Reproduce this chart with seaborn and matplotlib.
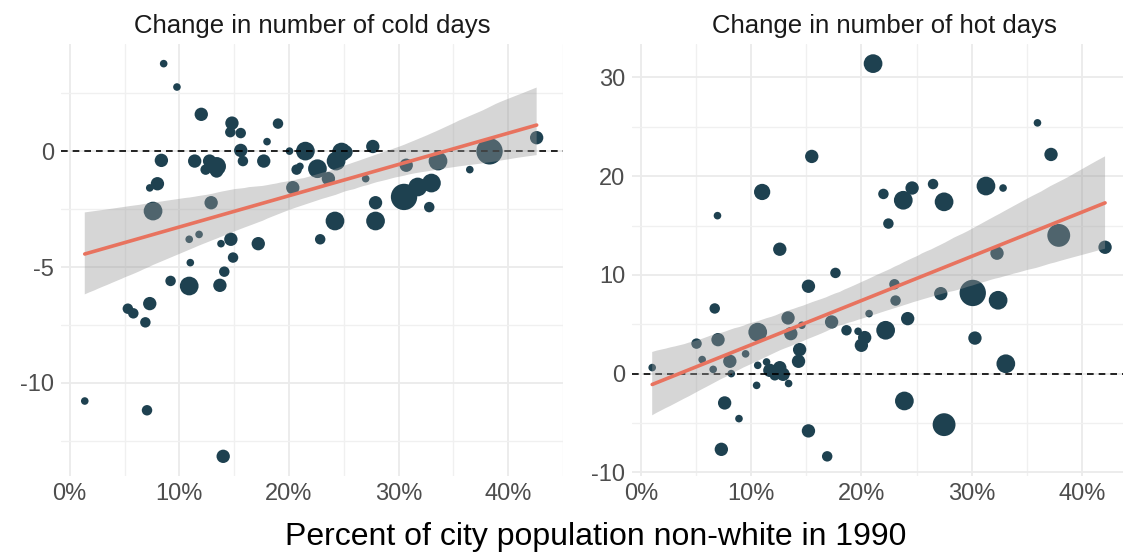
import matplotlib
matplotlib.use('Agg')
import matplotlib.pyplot as plt
from matplotlib.ticker import PercentFormatter, MultipleLocator
from matplotlib.collections import PolyCollection
import seaborn as sns
import pandas as pd

# Change in number of cold days
cold_x = [8.57, 9.78, 12.0, 14.8, 14.65, 15.6, 19.0, 18.0, 15.6, 15.8, 8.36, 11.4, 12.76,
          12.4, 13.4, 13.4, 17.7, 20.05, 21.5, 20.7, 21.0, 22.6, 23.6, 24.3, 24.8, 25.2,
          27.65, 27.0, 20.35, 12.9, 7.6, 8.0, 7.3, 30.7, 33.6, 36.5, 38.3, 42.6, 30.5,
          31.75, 33.0, 32.8, 27.9, 27.9, 24.2, 22.85, 17.2, 10.9, 11.8, 14.7, 13.8, 11.0,
          14.9, 14.1, 9.2, 10.9, 13.7, 5.3, 5.8, 7.3, 6.9, 1.37, 7.05, 14.0]
cold_y = [3.79, 2.78, 1.60, 1.22, 0.83, 0.79, 1.20, 0.42, 0.04, -0.42, -0.39, -0.42, -0.42,
          -0.79, -0.65, -0.85, -0.42, 0.01, 0.01, -0.79, -0.65, -0.75, -1.18, -0.42, -0.03,
          -0.03, 0.21, -1.18, -1.57, -2.22, -2.58, -1.40, -1.58, -0.6, -0.42, -0.79, 0.0,
          0.59, -1.97, -1.54, -1.37, -2.41, -2.22, -3.01, -3.01, -3.80, -3.99, -3.80, -3.59,
          -3.80, -3.99, -4.81, -4.59, -5.2, -5.6, -5.82, -5.79, -6.8, -7.0, -6.58, -7.39,
          -10.79, -11.19, -13.18]
cold_pop = [0.3, 0.3, 1.0, 1.0, 0.6, 0.6, 0.6, 0.3, 1.0, 0.6, 1.0, 1.0, 1.0,
            0.6, 2.0, 1.0, 1.0, 0.3, 2.0, 0.6, 0.3, 2.0, 1.0, 2.0, 2.0, 1.0,
            1.0, 0.3, 1.0, 1.0, 2.0, 1.0, 0.3, 1.0, 2.0, 0.3, 4.0, 1.0, 4.0,
            2.0, 2.0, 0.6, 1.0, 2.0, 2.0, 0.6, 1.0, 0.3, 0.3, 1.0, 0.3, 0.3,
            0.6, 0.6, 0.6, 2.0, 1.0, 0.6, 0.6, 1.0, 0.6, 0.3, 0.6, 1.0]

# Change in number of hot days
hot_x = [21.06, 35.97, 37.2, 15.5, 11.0, 6.95, 22.0, 23.8, 24.6, 26.5, 27.5, 22.45, 31.3,
         32.85, 12.6, 37.9, 42.1, 32.3, 17.65, 15.2, 23.0, 23.1, 27.2, 30.1, 32.4, 6.7,
         20.7, 24.2, 22.2, 17.3, 13.35, 14.6, 10.6, 13.6, 5.05, 7.0, 18.65, 19.7, 20.3,
         20.0, 30.3, 33.1, 14.4, 14.3, 9.5, 5.56, 8.07, 6.56, 8.2, 1.03, 10.6, 11.4, 11.7,
         12.6, 12.9, 12.15, 13.4, 10.5, 7.6, 8.9, 15.2, 7.3, 16.9, 23.9, 27.5]
hot_y = [31.4, 25.4, 22.2, 22.0, 18.4, 16.0, 18.2, 17.56, 18.8, 19.2, 17.4, 15.2, 19.0,
         18.8, 12.6, 14.0, 12.8, 12.2, 10.2, 8.85, 9.05, 7.4, 8.1, 8.17, 7.43, 6.6,
         6.08, 5.57, 4.39, 5.23, 5.64, 4.9, 4.2, 4.05, 3.04, 3.44, 4.39, 4.29, 3.65,
         2.87, 3.6, 1.0, 2.43, 1.25, 2.0, 1.42, 1.25, 0.43, 0.0, 0.61, 0.84, 1.18, 0.33,
         0.6, -0.07, -0.17, -1.0, -1.19, -2.97, -4.56, -5.8, -7.67, -8.38, -2.77, -5.17]
hot_pop = [2.0, 0.3, 1.0, 1.0, 1.5, 0.3, 0.6, 2.0, 1.0, 0.6, 2.0, 0.6, 2.0,
           0.3, 1.0, 3.0, 1.0, 1.0, 0.6, 1.0, 0.6, 0.6, 1.0, 4.0, 2.0, 0.6,
           0.3, 1.0, 2.0, 1.0, 1.0, 0.3, 2.0, 1.0, 0.6, 1.0, 0.6, 0.3, 1.0,
           1.0, 1.0, 2.0, 1.0, 1.0, 0.3, 0.3, 1.0, 0.3, 0.3, 0.3, 0.3, 0.3, 1.0,
           1.0, 1.0, 0.6, 0.3, 0.3, 1.0, 0.3, 1.0, 1.0, 0.6, 2.0, 3.0]

panels = [
    ('Change in number of cold days', cold_x, cold_y, cold_pop, (-14.03, 4.64), 5),
    ('Change in number of hot days', hot_x, hot_y, hot_pop, (-10.37, 33.39), 10),
]

sns.set_style('white')
plt.rcParams['font.family'] = ['Liberation Sans', 'DejaVu Sans']
plt.rcParams['axes.unicode_minus'] = False

POINT = '#1e4150'
LINE = '#e8735f'

fig = plt.figure(figsize=(11.23, 5.56), dpi=100)
axes = [fig.add_axes([0.0543, 0.1439, 0.447, 0.777]),
        fig.add_axes([0.5628, 0.1439, 0.4497, 0.777])]

for ax, (title, xs, ys, pop, ylim, ystep) in zip(axes, panels):
    df = pd.DataFrame({'x': xs, 'y': ys, 'pop': pop})
    sns.scatterplot(data=df, x='x', y='y', size='pop', sizes=(30, 360),
                    size_norm=(0.3, 4.0), color=POINT, edgecolor='none',
                    alpha=1, legend=False, ax=ax, zorder=2)
    ax.axhline(0, color='black', lw=1.2, ls=(0, (4, 3)), zorder=3)
    n_before = len(ax.collections)
    sns.regplot(data=df, x='x', y='y', scatter=False, ci=95, seed=1,
                color=LINE, line_kws=dict(lw=2.6, zorder=5), ax=ax)
    # grey confidence ribbon laid over the points, as in ggplot
    for coll in ax.collections[n_before:]:
        if isinstance(coll, PolyCollection):
            coll.set_facecolor('#999999')
            coll.set_alpha(0.4)
            coll.set_edgecolor('none')
            coll.set_zorder(4)

    ax.set_xlim(-0.8, 45.0)
    ax.set_ylim(*ylim)
    ax.xaxis.set_major_locator(MultipleLocator(10))
    ax.xaxis.set_minor_locator(MultipleLocator(5))
    ax.yaxis.set_major_locator(MultipleLocator(ystep))
    ax.yaxis.set_minor_locator(MultipleLocator(ystep / 2))
    ax.xaxis.set_major_formatter(PercentFormatter(xmax=100, decimals=0))
    ax.grid(which='major', color='#ebebeb', lw=1.3, zorder=0)
    ax.grid(which='minor', color='#f0f0f0', lw=1.0, zorder=0)
    ax.set_axisbelow(True)
    ax.tick_params(which='both', length=0, labelsize=17, labelcolor='#4d4d4d', pad=5)
    sns.despine(ax=ax, left=True, bottom=True, top=True, right=True)
    ax.set_xlabel('')
    ax.set_ylabel('')
    ax.set_title(title, fontsize=18.5, color='#1a1a1a', pad=8)

fig.text(0.53, 0.035, 'Percent of city population non-white in 1990',
         ha='center', va='center', fontsize=23, color='black')

fig.savefig('out.png', dpi=100)
